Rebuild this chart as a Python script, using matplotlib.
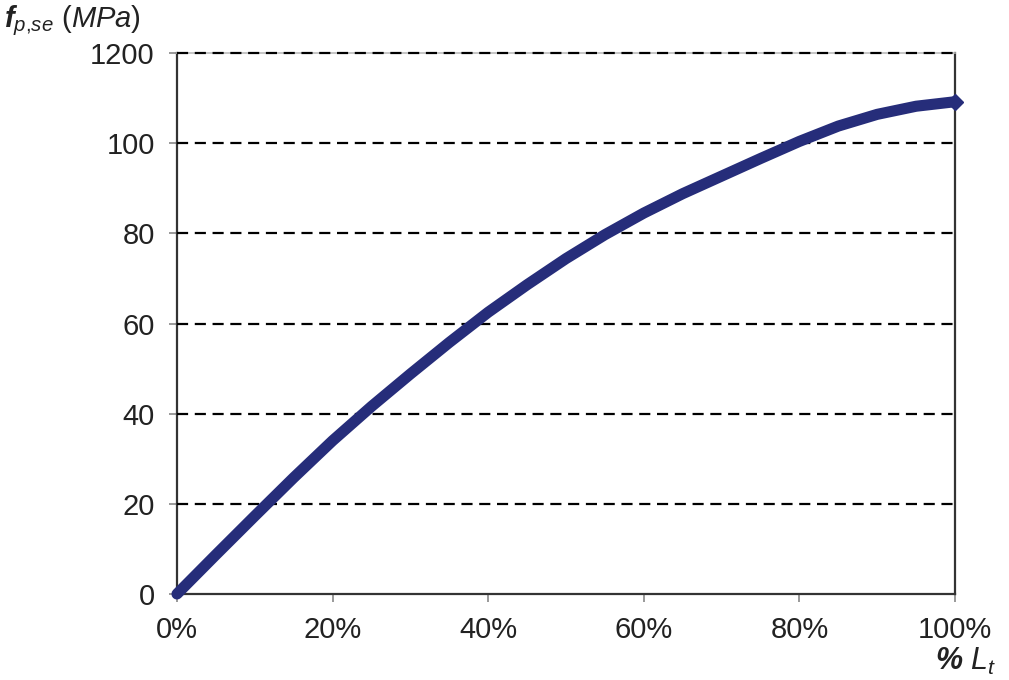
import matplotlib
matplotlib.use('Agg')
import matplotlib.pyplot as plt

plt.rcParams['font.family'] = ['Liberation Sans', 'DejaVu Sans']
plt.rcParams['mathtext.fontset'] = 'custom'
plt.rcParams['mathtext.rm'] = 'Liberation Sans'
plt.rcParams['mathtext.it'] = 'Liberation Sans:italic'
plt.rcParams['mathtext.bf'] = 'Liberation Sans:italic:bold'

# transfer length fraction (%) vs effective prestress
pct_lt = [0, 5, 10, 15, 20, 25, 30, 35, 40, 45, 50, 55, 60, 65, 70, 75, 80, 85, 90, 95, 100]
fpse = [0, 8.7, 17.3, 25.8, 34.0, 41.6, 48.8, 55.8, 62.5, 68.6, 74.4, 79.7, 84.5,
        88.8, 92.7, 96.6, 100.4, 103.8, 106.4, 108.2, 109.2]

y_ticks = [0, 20, 40, 60, 80, 100, 120]
y_tick_labels = ['0', '20', '40', '60', '80', '100', '1200']
x_ticks = [0, 20, 40, 60, 80, 100]
x_tick_labels = ['0%', '20%', '40%', '60%', '80%', '100%']

fig = plt.figure(figsize=(10.09, 6.80), dpi=100)
ax = fig.add_axes([0.1754, 0.1265, 0.7711, 0.7955])

for yv in y_ticks[1:]:
    ax.axhline(yv, color='black', lw=1.6, ls=(0, (5, 3)), zorder=2.6, clip_on=False)

ax.plot(pct_lt, fpse, color='#262d7a', lw=8, solid_capstyle='round',
        solid_joinstyle='round', zorder=3, clip_on=False)
ax.plot(pct_lt[-1:], fpse[-1:], marker='D', color='#262d7a', ms=8, zorder=3,
        clip_on=False)

ax.set_xlim(0, 100)
ax.set_ylim(0, 120)
ax.set_yticks(y_ticks)
ax.set_yticklabels(y_tick_labels)
ax.set_xticks(x_ticks)
ax.set_xticklabels(x_tick_labels)
ax.tick_params(axis='both', labelsize=21, color='#888888', length=6, width=1.2,
               direction='out', labelcolor='#222222')
ax.tick_params(axis='y', pad=10)
ax.tick_params(axis='x', pad=10)

for side in ['left', 'bottom', 'right']:
    ax.spines[side].set_color('#333333')
    ax.spines[side].set_linewidth(1.6)
ax.spines['top'].set_color('#bbbbbb')
ax.spines['top'].set_linewidth(1.2)

fig.text(0.004, 0.995, r'$\mathbf{f}_{\mathit{p{,}se}}\ \mathit{(MPa)}$',
         fontsize=21, ha='left', va='top', color='#222222')
fig.text(0.987, 0.004, r'$\mathbf{\%}\ \mathit{L}_{\mathit{t}}$',
         fontsize=22, ha='right', va='bottom', color='#222222')

fig.savefig('out.png', dpi=100)
